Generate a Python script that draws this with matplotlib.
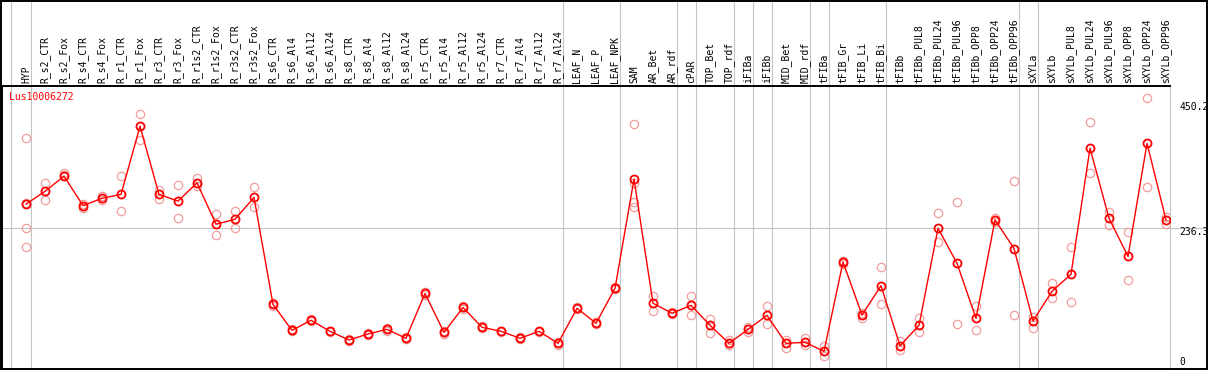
import matplotlib
matplotlib.use('Agg')
import matplotlib.pyplot as plt
from matplotlib.patches import Rectangle

gene = 'Lus10006272'

samples = ['HYP', 'R_s2_CTR', 'R_s2_Fox', 'R_s4_CTR', 'R_s4_Fox', 'R_r1_CTR',
           'R_r1_Fox', 'R_r3_CTR', 'R_r3_Fox', 'R_r1s2_CTR', 'R_r1s2_Fox',
           'R_r3s2_CTR', 'R_r3s2_Fox', 'R_s6_CTR', 'R_s6_Al4', 'R_s6_Al12',
           'R_s6_Al24', 'R_s8_CTR', 'R_s8_Al4', 'R_s8_Al12', 'R_s8_Al24',
           'R_r5_CTR', 'R_r5_Al4', 'R_r5_Al12', 'R_r5_Al24', 'R_r7_CTR',
           'R_r7_Al4', 'R_r7_Al12', 'R_r7_Al24', 'LEAF_N', 'LEAF_P', 'LEAF_NPK',
           'SAM', 'AR_Bet', 'AR_rdf', 'cPAR', 'TOP_Bet', 'TOP_rdf', 'iFIBa',
           'iFIBb', 'MID_Bet', 'MID_rdf', 'tFIBa', 'tFIB_Gr', 'tFIB_Li',
           'tFIB_Bi', 'tFIBb', 'tFIBb_PUL8', 'tFIBb_PUL24', 'tFIBb_PUL96',
           'tFIBb_OPP8', 'tFIBb_OPP24', 'tFIBb_OPP96', 'sXYLa', 'sXYLb',
           'sXYLb_PUL8', 'sXYLb_PUL24', 'sXYLb_PUL96', 'sXYLb_OPP8',
           'sXYLb_OPP24', 'sXYLb_OPP96']

# mean expression per sample
means = [276, 297, 322, 273.5, 285.6, 292, 404, 292, 281, 311, 243, 251, 287,
         111, 68.4, 85, 66.8,
         52.5, 62.4, 70, 55.3,
         129, 65, 106, 73.4,
         66.8, 55.3, 66.8, 47,
         104.6, 80, 137.5,
         317, 113, 96.4, 109.6, 76.7, 47, 70, 93, 47, 48.7,
         33.9, 180.8, 93.6, 141.8, 43, 76.7, 236.3, 178.7, 88, 250, 203,
         83.7, 132.6, 160.6, 368, 252.7, 190, 376, 250]

# individual replicates
replicates = [
    [384, 237, 205, 278], [310, 283], [328, 324], [277, 269], [289, 282],
    [322, 264], [425, 381.5], [300, 284], [307, 253], [319, 306],
    [259, 225], [265, 237], [304, 272],
    [113, 109], [70, 67], [87, 83], [68, 65],
    [54, 51], [64, 61], [72, 68], [57, 54],
    [131, 127], [67, 63], [108, 104], [75, 72],
    [68, 65], [57, 54], [68, 65], [49, 45],
    [106, 103], [82, 78], [139, 136],
    [407, 310, 280, 272], [125, 100.7], [98, 95], [125, 93], [86.5, 64.5],
    [52.5, 44], [74.5, 66], [108.4, 78.8], [52.5, 38.8], [55, 44],
    [42.6, 26.7], [183, 178], [97, 88], [172, 111], [51, 36], [88, 65],
    [261, 213], [279, 78.8], [108.4, 68.4], [253, 247], [313.6, 93.6],
    [91, 71.7], [145.8, 121], [205, 114.5], [410.6, 326.7], [262.6, 241],
    [229.7, 150.7], [450.2, 303.7], [255.5, 243],
]

# group separators (x in sample index units)
separators = [-0.8, 0.25, 28.25, 31.25, 34.25, 35.25, 37.25, 38.25, 39.25,
              41.25, 42.25, 45.25, 52.25, 53.25]

grid_value = 236.3
axis_labels = ['450.2', '236.3', '0']

W, H = 1209, 370
fig = plt.figure(figsize=(W / 100, H / 100), dpi=100)
ax = fig.add_axes([1.5 / W, 1 / H, (1170 - 1.5) / W, 283 / H])

x = list(range(len(samples)))

for i, reps in enumerate(replicates):
    ax.plot([i] * len(reps), reps, 'o', ms=6, mfc='none', mec='#f29c9c',
            mew=0.9, zorder=2)

ax.plot(x, means, '-', color='red', lw=1.0, zorder=3)
ax.plot(x, means, 'o', ms=5.8, mfc='none', mec='red', mew=1.3, zorder=4)

ax.set_xlim(-1.29, 60.21)
ax.set_ylim(4.8, 470.3)

for s in separators:
    ax.axvline(s, ymin=0, ymax=369 / 283, color='#c4c4c4', lw=0.8,
               clip_on=False, zorder=1)
ax.axhline(grid_value, xmin=0, xmax=(1207 - 1.5) / (1170 - 1.5),
           color='#c4c4c4', lw=0.8, clip_on=False, zorder=1)

for i, name in enumerate(samples):
    ax.text(i, 1 + 3 / 283, name, transform=ax.get_xaxis_transform(),
            rotation=90, ha='center', va='bottom', fontsize=7,
            family='DejaVu Sans Mono')

ax.set_xticks([])
ax.set_yticks([])
for side in ['left', 'bottom', 'top']:
    ax.spines[side].set_linewidth(1.4)
    ax.spines[side].set_color('black')
ax.spines['right'].set_color('#c4c4c4')
ax.spines['right'].set_linewidth(0.8)

# outer border
fig.add_artist(Rectangle((1 / W, 1 / H), 1206 / W, 368.5 / H, fill=False,
                         edgecolor='black', lw=1.4,
                         transform=fig.transFigure))

fig.text(9 / W, 1 - 97 / H, gene, color='red', fontsize=7,
         family='DejaVu Sans Mono', va='center', ha='left')

label_y = [107.3, 232.3, 361.7]
for lab, yy in zip(axis_labels, label_y):
    fig.text(1179 / W, 1 - yy / H, lab, fontsize=7,
             family='DejaVu Sans Mono', va='center', ha='left')

fig.savefig('out.png', dpi=100)
